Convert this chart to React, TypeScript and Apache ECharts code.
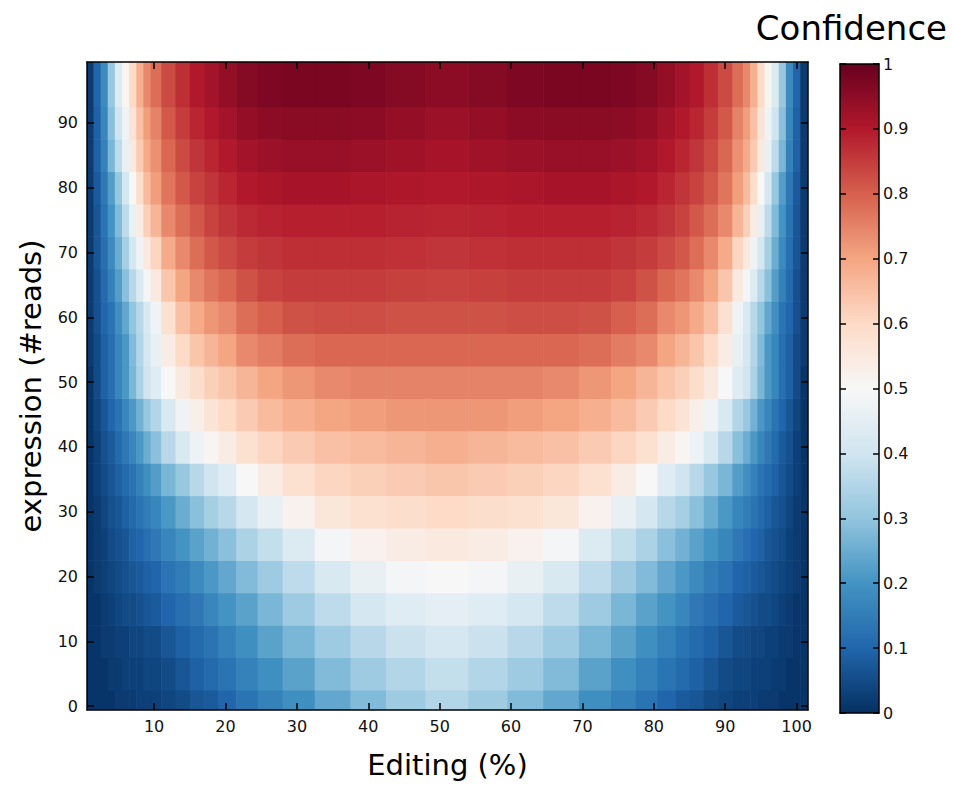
import React, { useEffect, useRef } from "react";
import * as echarts from "echarts";

// Editing level (%) of each column of cells (cell centres)
const editingPct = [1, 2, 3, 4, 5, 6, 7, 8, 9, 10, 12, 14, 16, 18, 20, 23, 26, 30, 35, 40, 45, 51, 57, 62, 67, 72, 76, 79, 82, 84, 86, 88, 90, 92, 93, 94, 95, 96, 97, 98, 99, 100, 101];
// Expression (#reads) of each row of cells (cell centres)
const readCounts = [0, 5, 10, 15, 20, 25, 30, 35, 40, 45, 50, 55, 60, 65, 70, 75, 80, 85, 90, 95];

// Confidence values, one row per read count, one value per editing level
const conf0 = [.01,.01,.01,.01,.02,.02,.02,.03,.03,.03,.04,.05,.07,.08,.10,.13,.16,.19,.24,.28,.32,.35,.32,.28,.24,.19,.16,.13,.10,.08,.07,.05,.04,.03,.03,.03,.02,.02,.02,.01,.01,.01,.01];
const conf5 = [.01,.01,.01,.02,.02,.03,.03,.03,.04,.04,.05,.07,.09,.11,.13,.16,.19,.23,.28,.32,.35,.38,.35,.32,.28,.23,.19,.16,.13,.11,.09,.07,.05,.04,.04,.03,.03,.03,.02,.02,.01,.01,.01];
const conf10 = [.01,.01,.02,.02,.03,.03,.04,.04,.05,.05,.07,.09,.11,.13,.16,.19,.23,.27,.32,.36,.39,.41,.39,.36,.32,.27,.23,.19,.16,.13,.11,.09,.07,.05,.05,.04,.04,.03,.03,.02,.02,.01,.01];
const conf15 = [.01,.01,.02,.03,.04,.05,.05,.06,.07,.08,.10,.12,.14,.17,.20,.23,.27,.32,.37,.41,.44,.45,.44,.41,.37,.32,.27,.23,.20,.17,.14,.12,.10,.08,.07,.06,.05,.05,.04,.03,.02,.01,.01];
const conf20 = [.01,.02,.03,.04,.05,.06,.07,.08,.09,.10,.13,.15,.18,.21,.24,.28,.32,.37,.42,.46,.49,.50,.49,.46,.42,.37,.32,.28,.24,.21,.18,.15,.13,.10,.09,.08,.07,.06,.05,.04,.03,.02,.01];
const conf25 = [.01,.02,.03,.05,.06,.07,.09,.10,.12,.14,.17,.20,.23,.26,.29,.34,.38,.43,.49,.52,.54,.55,.54,.52,.49,.43,.38,.34,.29,.26,.23,.20,.17,.14,.12,.10,.09,.07,.06,.05,.03,.02,.01];
const conf30 = [.01,.02,.04,.06,.07,.09,.11,.13,.15,.17,.21,.25,.29,.33,.36,.41,.46,.52,.56,.58,.59,.60,.59,.58,.56,.52,.46,.41,.36,.33,.29,.25,.21,.17,.15,.13,.11,.09,.07,.06,.04,.02,.01];
const conf35 = [.01,.03,.05,.07,.09,.11,.13,.16,.19,.22,.27,.31,.36,.40,.44,.50,.54,.58,.61,.62,.63,.64,.63,.62,.61,.58,.54,.50,.44,.40,.36,.31,.27,.22,.19,.16,.13,.11,.09,.07,.05,.03,.01];
const conf40 = [.01,.03,.06,.08,.11,.14,.17,.21,.25,.29,.36,.42,.47,.51,.54,.58,.61,.63,.65,.66,.67,.68,.67,.66,.65,.63,.61,.58,.54,.51,.47,.42,.36,.29,.25,.21,.17,.14,.11,.08,.06,.03,.01];
const conf45 = [.01,.04,.07,.10,.13,.17,.21,.26,.31,.35,.42,.48,.53,.57,.60,.63,.66,.68,.70,.71,.72,.72,.72,.71,.70,.68,.66,.63,.60,.57,.53,.48,.42,.35,.31,.26,.21,.17,.13,.10,.07,.04,.01];
const conf50 = [.01,.05,.09,.12,.17,.21,.27,.34,.40,.44,.50,.55,.59,.62,.64,.67,.70,.72,.74,.75,.75,.75,.75,.75,.74,.72,.70,.67,.64,.62,.59,.55,.50,.44,.40,.34,.27,.21,.17,.12,.09,.05,.01];
const conf55 = [.02,.05,.09,.12,.17,.21,.28,.35,.41,.46,.54,.60,.64,.67,.70,.74,.76,.78,.79,.79,.79,.79,.79,.79,.79,.78,.76,.74,.70,.67,.64,.60,.54,.46,.41,.35,.28,.21,.17,.12,.09,.05,.02];
const conf60 = [.02,.06,.10,.13,.19,.24,.30,.36,.42,.48,.58,.65,.69,.72,.74,.78,.80,.82,.825,.825,.82,.82,.82,.825,.825,.82,.80,.78,.74,.72,.69,.65,.58,.48,.42,.36,.30,.24,.19,.13,.10,.06,.02];
const conf65 = [.02,.06,.11,.16,.22,.29,.36,.43,.49,.55,.64,.70,.74,.77,.79,.82,.84,.85,.85,.85,.845,.84,.845,.85,.85,.85,.84,.82,.79,.77,.74,.70,.64,.55,.49,.43,.36,.29,.22,.16,.11,.06,.02];
const conf70 = [.02,.07,.12,.18,.25,.33,.41,.48,.55,.61,.69,.74,.78,.81,.83,.85,.86,.87,.87,.87,.865,.86,.865,.87,.87,.87,.86,.85,.83,.81,.78,.74,.69,.61,.55,.48,.41,.33,.25,.18,.12,.07,.02];
const conf75 = [.02,.07,.13,.20,.28,.37,.46,.54,.62,.67,.74,.78,.81,.84,.86,.875,.885,.89,.89,.89,.885,.88,.885,.89,.89,.89,.885,.875,.86,.84,.81,.78,.74,.67,.62,.54,.46,.37,.28,.20,.13,.07,.02];
const conf80 = [.02,.08,.14,.22,.31,.41,.50,.59,.66,.71,.77,.81,.84,.86,.88,.90,.91,.915,.915,.91,.905,.90,.905,.91,.915,.915,.91,.90,.88,.86,.84,.81,.77,.71,.66,.59,.50,.41,.31,.22,.14,.08,.02];
const conf85 = [.02,.09,.16,.27,.37,.46,.55,.63,.69,.73,.79,.83,.86,.88,.90,.92,.93,.935,.935,.93,.925,.915,.925,.93,.935,.935,.93,.92,.90,.88,.86,.83,.79,.73,.69,.63,.55,.46,.37,.27,.16,.09,.02];
const conf90 = [.02,.09,.17,.29,.40,.48,.57,.65,.71,.75,.81,.85,.88,.90,.92,.94,.95,.955,.955,.95,.94,.93,.94,.95,.955,.955,.95,.94,.92,.90,.88,.85,.81,.75,.71,.65,.57,.48,.40,.29,.17,.09,.02];
const conf95 = [.02,.10,.18,.31,.43,.51,.60,.68,.74,.78,.83,.87,.90,.92,.94,.96,.97,.975,.975,.97,.96,.95,.96,.97,.975,.975,.97,.96,.94,.92,.90,.87,.83,.78,.74,.68,.60,.51,.43,.31,.18,.10,.02];

const confidenceRows = [conf0, conf5, conf10, conf15, conf20, conf25, conf30, conf35, conf40, conf45, conf50, conf55, conf60, conf65, conf70, conf75, conf80, conf85, conf90, conf95];

const xTickValues = [10, 20, 30, 40, 50, 60, 70, 80, 90, 100];
const yTickValues = [0, 10, 20, 30, 40, 50, 60, 70, 80, 90];

// Reversed RdBu colour scale, 0 -> 1
const palette = ["#053061", "#2166ac", "#4393c3", "#92c5de", "#d1e5f0", "#f7f7f7", "#fddbc7", "#f4a582", "#d6604d", "#b2182b", "#67001f"];

const FONT = "DejaVu Sans";

function cellEdges(centers: number[], lo: number, hi: number): number[] {
  const e = [lo];
  for (let i = 1; i < centers.length; i++) e.push((centers[i - 1] + centers[i]) / 2);
  e.push(hi);
  return e;
}

export default function App() {
  const ref = useRef<HTMLDivElement>(null);

  useEffect(() => {
    if (!ref.current) return;
    const chart = echarts.init(ref.current, null, { renderer: "svg" });

    const xE = cellEdges(editingPct, 0.5, 101.5);
    const yE = cellEdges(readCounts, -0.5, 99.5);
    const heatData: number[][] = [];
    confidenceRows.forEach((row, yi) => {
      row.forEach((v, xi) => {
        heatData.push([xE[xi], xE[xi + 1], yE[yi], yE[yi + 1], v]);
      });
    });

    const tickStyle = { color: "#000", width: 1.5 };
    const lineStyle = { color: "#000", width: 1.5 };
    const labelStyle = { fontFamily: FONT, fontSize: 16, color: "#111" };

    const option: any = {
      animation: false,
      grid: [
        { left: 87, top: 62, width: 721, height: 648, containLabel: false },
        { left: 840, top: 64, width: 39, height: 649, containLabel: false },
      ],
      visualMap: {
        type: "continuous",
        show: false,
        min: 0,
        max: 1,
        dimension: 4,
        seriesIndex: 0,
        inRange: { color: palette },
      },
      xAxis: [
        {
          gridIndex: 0, type: "value", min: 0.6, max: 101.6, position: "bottom", z: 10,
          axisLine: { show: true, onZero: false, lineStyle },
          axisTick: { show: true, inside: true, length: 7, customValues: xTickValues, lineStyle: tickStyle },
          axisLabel: { show: true, customValues: xTickValues, margin: 8, ...labelStyle },
          splitLine: { show: false },
          name: "Editing (%)", nameLocation: "middle", nameGap: 40,
          nameTextStyle: { fontFamily: FONT, fontSize: 29, color: "#000" },
        },
        {
          gridIndex: 0, type: "value", min: 0.6, max: 101.6, position: "top", z: 10,
          axisLine: { show: true, onZero: false, lineStyle },
          axisTick: { show: true, inside: true, length: 7, customValues: xTickValues, lineStyle: tickStyle },
          axisLabel: { show: false },
          splitLine: { show: false },
        },
        {
          gridIndex: 1, type: "value", min: 0, max: 1, position: "bottom", z: 10,
          axisLine: { show: true, onZero: false, lineStyle },
          axisTick: { show: false }, axisLabel: { show: false }, splitLine: { show: false },
        },
        {
          gridIndex: 1, type: "value", min: 0, max: 1, position: "top", z: 10,
          axisLine: { show: true, onZero: false, lineStyle },
          axisTick: { show: false }, axisLabel: { show: false }, splitLine: { show: false },
        },
      ],
      yAxis: [
        {
          gridIndex: 0, type: "value", min: -0.6, max: 99.4, position: "left", z: 10,
          axisLine: { show: true, onZero: false, lineStyle },
          axisTick: { show: true, inside: true, length: 7, customValues: yTickValues, lineStyle: tickStyle },
          axisLabel: { show: true, customValues: yTickValues, margin: 9, ...labelStyle },
          splitLine: { show: false },
          name: "expression (#reads)", nameLocation: "middle", nameGap: 42, nameRotate: 90,
          nameTextStyle: { fontFamily: FONT, fontSize: 29, color: "#000" },
        },
        {
          gridIndex: 0, type: "value", min: -0.6, max: 99.4, position: "right", z: 10,
          axisLine: { show: true, onZero: false, lineStyle },
          axisTick: { show: true, inside: true, length: 7, customValues: yTickValues, lineStyle: tickStyle },
          axisLabel: { show: false },
          splitLine: { show: false },
        },
        {
          gridIndex: 1, type: "value", min: 0, max: 1, interval: 0.1, position: "right", z: 10,
          axisLine: { show: true, onZero: false, lineStyle },
          axisTick: { show: true, inside: true, length: 6, lineStyle: tickStyle },
          axisLabel: { show: true, margin: 4, ...labelStyle, formatter: (v: number) => (Math.round(v * 10) / 10).toString() },
          splitLine: { show: false },
        },
        {
          gridIndex: 1, type: "value", min: 0, max: 1, interval: 0.1, position: "left", z: 10,
          axisLine: { show: true, onZero: false, lineStyle },
          axisTick: { show: true, inside: true, length: 6, lineStyle: tickStyle },
          axisLabel: { show: false },
          splitLine: { show: false },
        },
      ],
      graphic: [
        {
          type: "text", right: 6, top: 11, z: 20,
          style: { text: "Confidence", font: `34px "${FONT}"`, fill: "#000" },
        },
      ],
      series: [
        {
          type: "custom",
          xAxisIndex: 0,
          yAxisIndex: 0,
          clip: true,
          encode: { x: [0, 1], y: [2, 3] },
          data: heatData,
          renderItem: (params: any, api: any) => {
            const a = api.coord([api.value(0), api.value(3)]);
            const b = api.coord([api.value(1), api.value(2)]);
            return {
              type: "rect",
              shape: { x: a[0], y: a[1], width: b[0] - a[0] + 0.6, height: b[1] - a[1] + 0.6 },
              style: { fill: api.visual("color") },
            };
          },
        },
        {
          type: "custom",
          xAxisIndex: 2,
          yAxisIndex: 2,
          data: [[0, 1, 0, 1]],
          encode: { x: [0, 1], y: [2, 3] },
          renderItem: (params: any, api: any) => {
            const a = api.coord([0, 1]);
            const b = api.coord([1, 0]);
            return {
              type: "rect",
              shape: { x: a[0], y: a[1], width: b[0] - a[0], height: b[1] - a[1] },
              style: {
                fill: new echarts.graphic.LinearGradient(
                  0, 1, 0, 0,
                  palette.map((c, i) => ({ offset: i / (palette.length - 1), color: c }))
                ),
              },
            };
          },
        },
      ],
    };

    chart.setOption(option);
    return () => chart.dispose();
  }, []);

  return (
    <div
      ref={ref}
      style={{ position: "fixed", left: 0, top: 0, width: 953, height: 785, background: "#fff" }}
    />
  );
}
